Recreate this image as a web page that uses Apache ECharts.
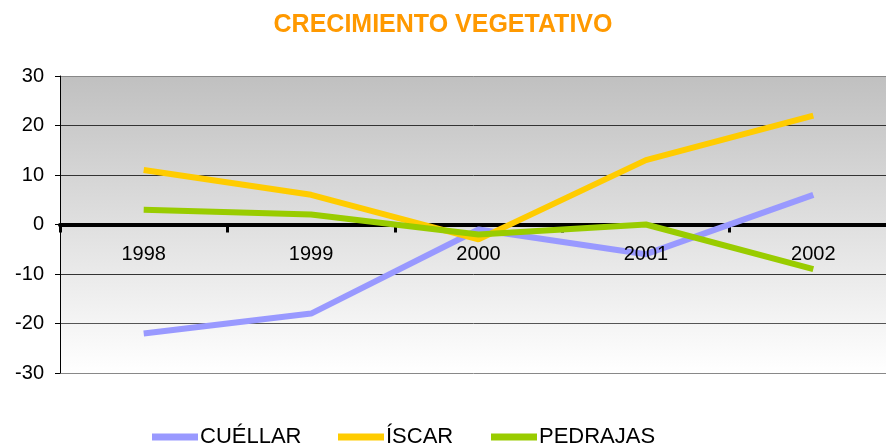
<!DOCTYPE html>
<html>
<head>
<meta charset="utf-8">
<script src="https://cdn.jsdelivr.net/npm/echarts@6/dist/echarts.min.js"></script>
<style>
    html, body { margin: 0; padding: 0; background: #fff; }
    #chart { width: 886px; height: 447px; }
</style>
</head>
<body>
<div id="chart"></div>
<script>
// 数据
var years = ['1998', '1999', '2000', '2001', '2002'];
var cuellar = [-22, -18, -1, -6, 6];
var iscar = [11, 6, -3, 13, 22];
var pedrajas = [3, 2, -2, 0, -9];

var myChart = echarts.init(document.getElementById('chart'));

var font = 'Arial, "Liberation Sans", sans-serif';

// 图例：每项单独定位
function makeLegend(name, left) {
    return {
        left: left,
        top: 426,
        padding: 0,
        icon: 'rect',
        itemWidth: 46,
        itemHeight: 7,
        textStyle: {
            color: '#000',
            fontSize: 22,
            fontFamily: font,
            padding: [0, 0, 0, -3]
        },
        data: [name]
    };
}

var option = {
    animation: false,
    title: {
        text: 'CRECIMIENTO VEGETATIVO',
        left: 'center',
        top: 8,
        textStyle: {
            color: '#FF9900',
            fontSize: 25,
            fontWeight: 'bold',
            fontFamily: font
        }
    },
    color: ['#9999FF', '#FFCC00', '#99CC00'],
    legend: [
        makeLegend('CUÉLLAR', 152),
        makeLegend('ÍSCAR', 338),
        makeLegend('PEDRAJAS', 491)
    ],
    grid: {
        left: 60,
        top: 76,
        width: 837,
        height: 297,
        outerBoundsMode: 'none',
        containLabel: false,
        show: true,
        borderWidth: 0,
        backgroundColor: new echarts.graphic.LinearGradient(0, 0, 0, 1, [
            { offset: 0, color: '#C0C0C0' },
            { offset: 1, color: '#FFFFFF' }
        ])
    },
    xAxis: [{
        // 零线与刻度（在折线下方）
        type: 'category',
        data: years,
        boundaryGap: true,
        offset: -148.5,
        axisLine: {
            onZero: false,
            lineStyle: { color: '#000', width: 4 }
        },
        axisTick: {
            show: true,
            length: 8,
            lineStyle: { color: '#000', width: 3 }
        },
        axisLabel: { show: false }
    }, {
        // 类目标签（在折线上方）
        type: 'category',
        data: years,
        position: 'bottom',
        boundaryGap: true,
        offset: -148.5,
        z: 10,
        axisLine: { show: false, onZero: false },
        axisTick: { show: false },
        axisLabel: {
            margin: 20,
            color: '#000',
            fontSize: 20,
            fontFamily: font
        }
    }],
    yAxis: {
        type: 'value',
        min: -30,
        max: 30,
        interval: 10,
        axisLine: {
            show: true,
            lineStyle: { color: '#000', width: 1 }
        },
        axisTick: {
            show: true,
            length: 5,
            lineStyle: { color: '#000' }
        },
        axisLabel: {
            margin: 16,
            color: '#000',
            fontSize: 20,
            fontFamily: font
        },
        splitLine: {
            show: true,
            lineStyle: {
                color: ['#888', '#555', '#333', '#333', '#333', '#333', '#888'],
                width: 1
            }
        }
    },
    series: [{
        name: 'CUÉLLAR',
        type: 'line',
        data: cuellar,
        showSymbol: false,
        lineStyle: { width: 6 }
    }, {
        name: 'ÍSCAR',
        type: 'line',
        data: iscar,
        showSymbol: false,
        lineStyle: { width: 6 }
    }, {
        name: 'PEDRAJAS',
        type: 'line',
        data: pedrajas,
        showSymbol: false,
        lineStyle: { width: 6 }
    }]
};

myChart.setOption(option);
</script>
</body>
</html>
